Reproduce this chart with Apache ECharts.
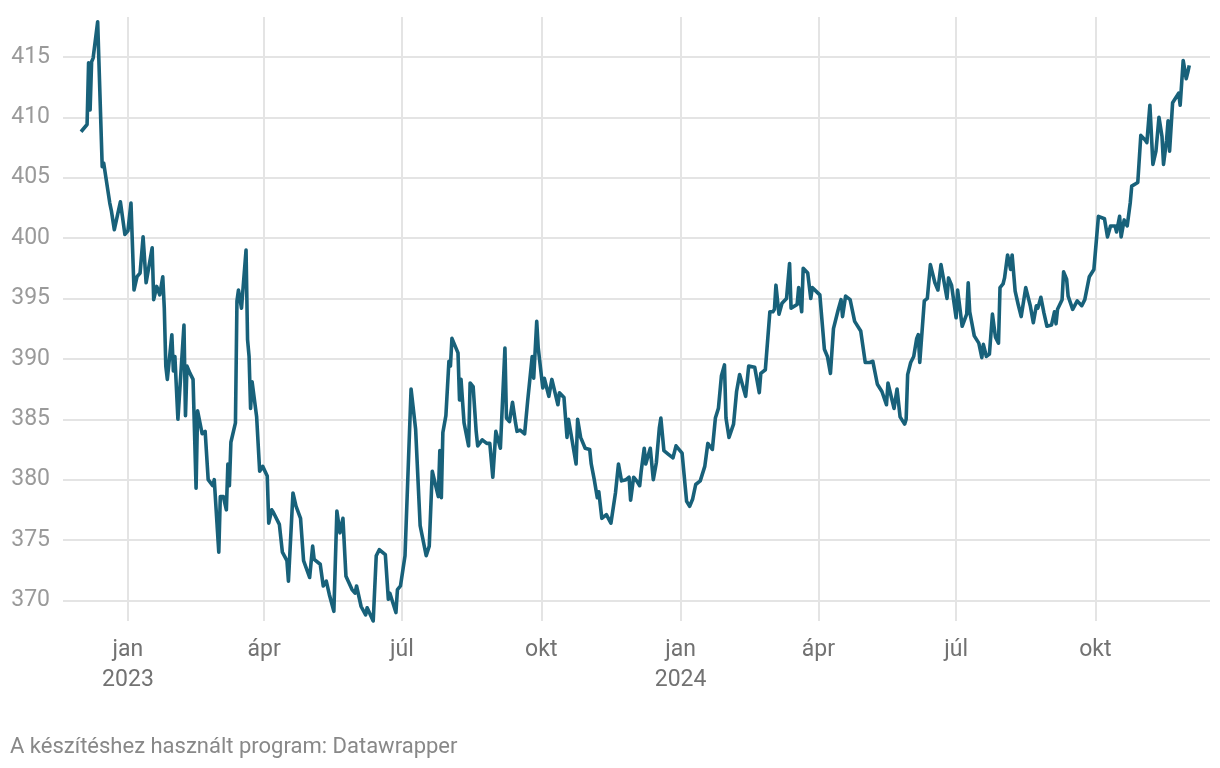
<!DOCTYPE html>
<html>
<head>
<meta charset="utf-8">
<script src="https://cdn.jsdelivr.net/npm/echarts@6/dist/echarts.min.js"></script>
<style>
  html, body { margin: 0; padding: 0; background: #fff; }
  #chart { width: 1220px; height: 768px; }
</style>
</head>
<body>
<div id="chart"></div>
<script>
// napok 2023-01-01 óta, és az EUR/HUF árfolyam
const days = [
  -31, -27, -26, -25, -24, -23, -20, -17, -16, -12, -11, -9, -5, -2, 0, 2, 4, 6, 8, 10,
  12, 16, 17, 19, 21, 23, 24, 25, 26, 29, 30, 31, 33, 37, 38, 39, 41, 43, 45, 46,
  49, 51, 53, 56, 57, 60, 61, 63, 65, 66, 67, 68, 71, 72, 73, 75, 78, 79, 80, 81,
  82, 85, 87, 89, 92, 93, 95, 96, 100, 102, 105, 106, 109, 111, 114, 116, 120, 122, 123, 127,
  129, 131, 133, 136, 138, 140, 142, 144, 148, 150, 151, 154, 157, 158, 162, 164, 166, 170, 172, 173,
  177, 178, 180, 183, 187, 190, 193, 197, 199, 201, 205, 206, 207, 208, 210, 212, 213, 214, 218, 219,
  220, 222, 225, 226, 228, 230, 231, 234, 237, 239, 241, 243, 246, 249, 250, 252, 254, 256, 257, 259,
  262, 264, 267, 268, 270, 271, 274, 275, 278, 280, 284, 285, 288, 290, 291, 296, 297, 299, 302, 305,
  306, 308, 310, 311, 313, 316, 319, 322, 324, 326, 329, 331, 332, 334, 336, 338, 339, 341, 342, 345,
  347, 349, 351, 352, 354, 357, 360, 362, 366, 369, 371, 373, 375, 378, 381, 383, 386, 388, 390, 392,
  394, 395, 397, 400, 402, 404, 408, 410, 414, 417, 418, 421, 422, 424, 426, 427, 428, 430, 432, 435,
  437, 438, 442, 443, 445, 446, 449, 451, 452, 457, 460, 462, 464, 466, 469, 471, 472, 474, 477, 480,
  484, 487, 490, 492, 495, 498, 501, 502, 506, 508, 510, 513, 514, 515, 517, 519, 521, 522, 523, 526,
  528, 530, 533, 535, 537, 541, 542, 544, 547, 548, 551, 554, 555, 556, 559, 562, 564, 565, 567, 569,
  571, 573, 575, 576, 578, 579, 581, 583, 584, 586, 588, 590, 593, 596, 598, 600, 601, 603, 605, 607,
  610, 612, 613, 614, 617, 618, 620, 621, 624, 627, 630, 632, 635, 638, 639, 641, 645, 647, 649, 652,
  653, 655, 656, 658, 660, 662, 663, 667, 669, 672, 673, 675, 677, 679, 681, 683, 684, 686, 687, 688,
  690, 692, 694, 695, 696, 697, 699, 700, 701
]
const rates = [
  408.8, 409.4, 414.5, 410.6, 414.6, 414.9, 417.9, 405.9, 406.2, 402.9, 402.3, 400.7, 403.0, 400.3, 400.6, 402.9, 395.7, 396.8, 397.1, 400.1,
  396.3, 399.2, 394.9, 396.0, 395.3, 396.8, 394.2, 389.4, 388.3, 392.0, 389.0, 390.2, 385.0, 392.8, 385.3, 389.4, 388.8, 388.3, 379.3, 385.7,
  383.8, 384.0, 380.0, 379.5, 380.0, 374.0, 378.6, 378.6, 377.5, 381.3, 379.5, 383.1, 384.7, 394.8, 395.7, 394.2, 399.0, 391.6, 390.2, 385.9,
  388.1, 385.2, 380.7, 381.1, 380.3, 376.4, 377.5, 377.3, 376.3, 374.0, 373.3, 371.6, 378.9, 377.8, 376.8, 373.3, 371.9, 374.5, 373.4, 373.0,
  371.2, 371.6, 370.5, 369.1, 377.4, 375.6, 376.8, 372.0, 370.9, 370.6, 371.2, 369.5, 368.8, 369.4, 368.3, 373.7, 374.2, 373.8, 370.1, 370.6,
  369.0, 370.9, 371.2, 373.7, 387.5, 384.2, 376.2, 373.7, 374.5, 380.7, 378.6, 382.4, 378.5, 383.9, 385.3, 389.8, 389.4, 391.7, 390.5, 386.6,
  388.3, 384.7, 382.8, 388.0, 387.7, 384.0, 382.8, 383.3, 383.0, 383.0, 380.2, 384.0, 382.6, 390.9, 385.1, 384.8, 386.4, 384.7, 384.0, 384.1,
  383.8, 386.5, 390.2, 388.4, 393.1, 390.9, 387.6, 388.4, 386.9, 388.3, 386.2, 387.2, 386.8, 383.5, 385.0, 381.3, 385.0, 383.5, 382.6, 382.5,
  381.3, 380.0, 378.5, 379.0, 376.8, 377.1, 376.4, 378.9, 381.3, 379.9, 380.0, 380.2, 378.3, 380.2, 379.9, 379.5, 380.7, 382.6, 381.3, 382.6,
  380.0, 381.4, 384.3, 385.1, 382.4, 382.1, 381.8, 382.8, 382.2, 378.2, 377.8, 378.4, 379.6, 379.9, 381.1, 383.0, 382.5, 385.1, 385.9, 388.6,
  389.5, 385.1, 383.5, 384.6, 387.3, 388.7, 386.9, 389.4, 389.3, 387.2, 388.8, 389.1, 389.0, 393.9, 393.9, 394.1, 396.1, 393.7, 394.6, 395.0,
  397.9, 394.2, 394.5, 395.9, 393.9, 397.5, 397.1, 395.0, 395.9, 395.3, 390.8, 390.2, 388.8, 392.5, 394.0, 394.9, 393.5, 395.2, 394.9, 393.1,
  392.3, 389.7, 389.7, 389.8, 387.9, 387.3, 386.2, 388.0, 385.9, 387.5, 385.2, 384.6, 385.0, 388.7, 389.7, 390.2, 391.7, 392.0, 389.7, 394.8,
  395.0, 397.8, 396.3, 395.7, 397.8, 395.0, 396.7, 396.1, 393.4, 395.7, 392.7, 393.7, 396.3, 393.9, 391.9, 391.3, 390.1, 391.2, 390.2, 390.4,
  393.7, 391.8, 391.3, 395.9, 396.2, 396.7, 398.6, 397.4, 398.6, 395.6, 394.5, 393.5, 395.9, 394.4, 393.0, 394.4, 394.2, 395.1, 393.8, 392.7,
  392.8, 393.9, 392.9, 394.1, 394.9, 397.2, 396.6, 395.2, 394.1, 394.8, 394.4, 394.9, 396.8, 397.4, 397.4, 401.8, 401.6, 400.1, 401.0, 401.0,
  400.5, 401.8, 400.1, 401.5, 401.0, 402.9, 404.3, 404.6, 408.5, 408.1, 407.9, 411.0, 406.1, 407.2, 410.0, 408.4, 406.1, 408.1, 409.7, 407.2,
  411.2, 411.6, 412.0, 411.0, 410.9, 414.7, 413.2, 413.7, 414.3
]
// negyedévek kezdete (nap 2023-01-01 óta) és feliratuk
const tickDays = [0, 90, 181, 273, 365, 456, 547, 639]
const tickLabels = ['jan\n2023', 'ápr', 'júl', 'okt', 'jan\n2024', 'ápr', 'júl', 'okt']

const myChart = echarts.init(document.getElementById('chart'))
const options = {
  animation: false,
  textStyle: { fontFamily: 'Roboto' },
  title: {
    text: 'A készítéshez használt program: Datawrapper',
    left: 5,
    top: 731,
    textStyle: { color: '#888', fontSize: 22, fontWeight: 'normal', fontFamily: 'Roboto' }
  },
  grid: { left: 63, right: 10, top: 17, bottom: 147, containLabel: false },
  xAxis: {
    type: 'value',
    min: -42.9,
    max: 714.7,
    axisLine: { show: false },
    axisTick: { show: false, customValues: tickDays },
    axisLabel: {
      customValues: tickDays,
      color: '#727272',
      fontSize: 23,
      lineHeight: 30,
      margin: 14,
      formatter: (v) => tickLabels[tickDays.indexOf(v)] || ''
    },
    splitLine: { show: true, lineStyle: { color: '#e4e4e4', width: 2 } }
  },
  yAxis: {
    type: 'value',
    min: 368.3,
    max: 418.3,
    minInterval: 5,
    maxInterval: 5,
    axisLine: { show: false },
    axisTick: { show: false },
    axisLabel: {
      color: '#9a9a9a',
      fontSize: 23,
      margin: 13,
      showMinLabel: false,
      showMaxLabel: false
    },
    splitLine: {
      show: true,
      showMinLine: false,
      showMaxLine: false,
      lineStyle: { color: '#e4e4e4', width: 2 }
    }
  },
  series: [
    {
      type: 'line',
      data: days.map((d, i) => [d, rates[i]]),
      showSymbol: false,
      clip: false,
      lineStyle: { color: '#18617a', width: 3.6, join: 'round' },
      z: 5
    }
  ]
}
myChart.setOption(options)
</script>
</body>
</html>
